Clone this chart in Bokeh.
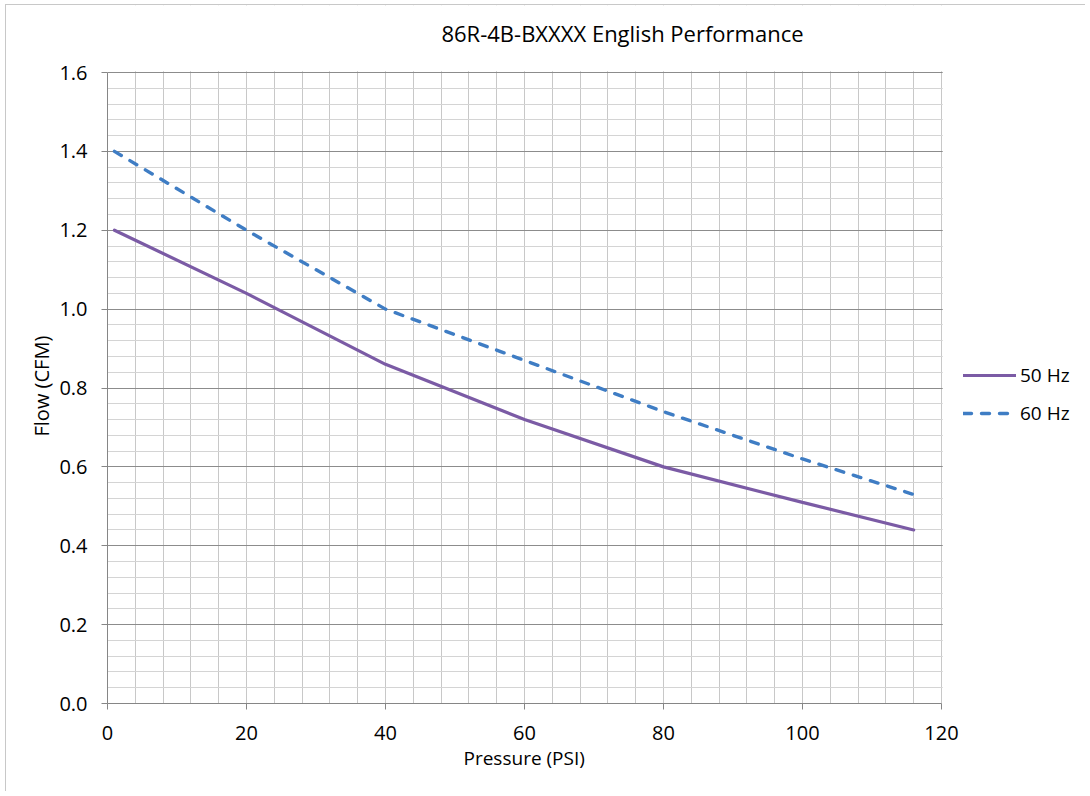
from bokeh.plotting import figure
from bokeh.models import (Range1d, SingleIntervalTicker, Legend, LegendItem, Title, Label,
                          BoxAnnotation, NumeralTickFormatter, InlineStyleSheet)
from bokeh.embed import file_html
from bokeh.resources import INLINE

# Data
pressure = [1, 20, 40, 60, 80, 100, 116]
flow_50hz = [1.20, 1.04, 0.86, 0.72, 0.60, 0.51, 0.44]
flow_60hz = [1.40, 1.20, 1.00, 0.87, 0.74, 0.62, 0.53]
series_names = ["50 Hz", "60 Hz"]
x_max, y_max = 120, 1.6

FONT = "Open Sans"

# layout (pixels): plot area 834 x 631, extra room right (legend) and top (title)
PLOT_W, PLOT_H = 834, 631
FRAME_W, FRAME_H = 978, 698
px_x = PLOT_W / x_max
px_y = PLOT_H / y_max

css = InlineStyleSheet(css=":host { margin-left: 5px; margin-top: 4px; border-left: 1px solid #c8c8c8; border-top: 1px solid #c8c8c8; }")
p = figure(frame_width=FRAME_W, frame_height=FRAME_H, output_backend="svg", toolbar_location=None,
           x_range=Range1d(0, FRAME_W / px_x), y_range=Range1d(0, FRAME_H / px_y),
           min_border_left=101, min_border_right=0, min_border_top=0, min_border_bottom=88,
           stylesheets=[css])
p.title = None
p.background_fill_color = "white"
p.border_fill_color = "white"
p.outline_line_color = None

xt = SingleIntervalTicker(interval=20, num_minor_ticks=5)
yt = SingleIntervalTicker(interval=0.2, num_minor_ticks=5)
p.xaxis.ticker = xt
p.yaxis.ticker = yt
p.xgrid.ticker = xt
p.ygrid.ticker = yt
p.yaxis.formatter = NumeralTickFormatter(format="0.0")
p.xaxis.bounds = (0, x_max)
p.yaxis.bounds = (0, y_max)

for ax in (p.xaxis[0], p.yaxis[0]):
    ax.axis_line_color = "#868686"
    ax.axis_line_width = 1
    ax.major_tick_line_color = "#868686"
    ax.major_tick_out = 6
    ax.major_tick_in = 0
    ax.minor_tick_line_color = None
    ax.major_label_text_font = FONT
    ax.major_label_text_font_size = "20px"
    ax.major_label_text_color = "#000000"

p.xaxis.major_label_standoff = 16
p.yaxis.major_label_standoff = 14

p.xgrid.grid_line_color = "#c8c8c8"
p.xgrid.minor_grid_line_color = "#c8c8c8"
p.ygrid.grid_line_color = "#8c8c8c"
p.ygrid.minor_grid_line_color = "#d4d4d4"

# blank out grid beyond the plot area
p.add_layout(BoxAnnotation(left=x_max + 1.2 / px_x, fill_color="white", fill_alpha=1,
                           line_color=None))
p.add_layout(BoxAnnotation(bottom=y_max + 1.2 / px_y, fill_color="white", fill_alpha=1,
                           line_color=None))

r1 = p.line(pressure, flow_50hz, line_color="#7B5BA5", line_width=3.2, line_cap="round")
r2 = p.line(pressure, flow_60hz, line_color="#3F7DC4", line_width=3.4,
            line_dash="8 10", line_cap="round")

legend = Legend(items=[LegendItem(label=series_names[0], renderers=[r1]),
                       LegendItem(label=series_names[1], renderers=[r2])],
                location=(856, 277), orientation="vertical")
legend.background_fill_alpha = 0
legend.border_line_color = None
legend.label_text_font = FONT
legend.label_text_font_size = "19px"
legend.label_text_color = "#000000"
legend.glyph_width = 53
legend.glyph_height = 22
legend.label_height = 22
legend.spacing = 12
legend.label_standoff = 4
legend.padding = 0
legend.margin = 0
p.add_layout(legend, "center")

# chart title
p.add_layout(Label(x=(622 - 107) / px_x, y=(704 - 33) / px_y,
                   text="86R-4B-BXXXX English Performance",
                   text_align="center", text_baseline="middle",
                   text_font=FONT, text_font_size="22px", text_color="#000000"))

# axis titles
xlab = Title(text="Pressure (PSI)", align="left", offset=356, text_font=FONT,
             text_font_size="19px", text_font_style="normal", text_color="#000000",
             standoff=0)
p.add_layout(xlab, "below")
ylab = Title(text="Flow (CFM)", align="left", offset=267, text_font=FONT,
             text_font_size="20px", text_font_style="normal", text_color="#000000",
             standoff=4)
p.add_layout(ylab, "left")

open("out.html", "w").write(file_html(p, INLINE))
